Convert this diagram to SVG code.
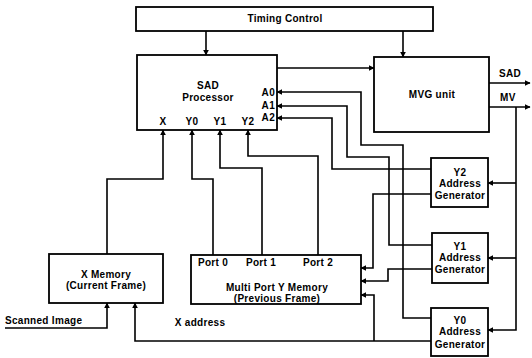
<svg xmlns="http://www.w3.org/2000/svg" width="532" height="358" viewBox="0 0 532 358">
<style>
.box{fill:#fff;stroke:#000;stroke-width:1.8}
.t{font-family:"Liberation Sans",Arial,sans-serif;font-weight:bold;font-size:10px;fill:#000;text-anchor:middle;letter-spacing:0.3px}
.l{text-anchor:start}
.r{text-anchor:end}
.c{fill:none;stroke:#000;stroke-width:1.6}
</style>
<defs>
<marker id="ah" viewBox="0 0 10 10" refX="9" refY="5" markerWidth="6" markerHeight="6" markerUnits="userSpaceOnUse" orient="auto">
<path d="M0,0 L10,5 L0,10 z" fill="#000"/>
</marker>
</defs>
<rect width="532" height="358" fill="#fff"/>
<g id="connectors">
<path class="c" d="M206,31 V55" marker-end="url(#ah)"/>
<path class="c" d="M403,31 V57" marker-end="url(#ah)"/>
<path class="c" d="M277,68 H374" marker-end="url(#ah)"/>
<path class="c" d="M489,83 H530" marker-end="url(#ah)"/>
<path class="c" d="M489,107 H530" marker-end="url(#ah)"/>
<path class="c" d="M516,107 V330 H488" marker-end="url(#ah)"/>
<path class="c" d="M516,183 H488" marker-end="url(#ah)"/>
<path class="c" d="M516,258 H488" marker-end="url(#ah)"/>
<path class="c" d="M431,318 H403 V145 H361 V92 H277" marker-end="url(#ah)"/>
<path class="c" d="M432,245 H389 V157 H347 V106 H277" marker-end="url(#ah)"/>
<path class="c" d="M431,169 H332 V118 H277" marker-end="url(#ah)"/>
<path class="c" d="M107,254 V179 H163 V130" marker-end="url(#ah)"/>
<path class="c" d="M213,255 V179 H192 V130" marker-end="url(#ah)"/>
<path class="c" d="M262,255 V168 H220 V130" marker-end="url(#ah)"/>
<path class="c" d="M318,255 V156 H248 V130" marker-end="url(#ah)"/>
<path class="c" d="M431,194 H373 V268 H361" marker-end="url(#ah)"/>
<path class="c" d="M432,269 H388 V281 H361" marker-end="url(#ah)"/>
<path class="c" d="M431,341 H135 V303" marker-end="url(#ah)"/>
<path class="c" d="M374,341 V295 H361" marker-end="url(#ah)"/>
<path class="c" d="M5,328 H107 V303" marker-end="url(#ah)"/>
<text class="t l" x="499" y="77">SAD</text>
<text class="t l" x="500" y="101">MV</text>
<text class="t l" x="5" y="324">Scanned Image</text>
<text class="t" x="200" y="326">X address</text>
</g>
<g id="timing">
<rect class="box" x="136" y="7" width="297" height="24"/>
<text class="t" x="285" y="22">Timing Control</text>
</g>
<g id="sad">
<rect class="box" x="137" y="55" width="140" height="75"/>
<text class="t" x="208" y="89">SAD</text>
<text class="t" x="208" y="101">Processor</text>
<text class="t" x="163" y="125">X</text>
<text class="t" x="192" y="125">Y0</text>
<text class="t" x="220" y="125">Y1</text>
<text class="t" x="248" y="125">Y2</text>
<text class="t r" x="275" y="96">A0</text>
<text class="t r" x="275" y="109">A1</text>
<text class="t r" x="275" y="121">A2</text>
</g>
<g id="mvg">
<rect class="box" x="374" y="57" width="115" height="75"/>
<text class="t" x="432" y="98">MVG unit</text>
</g>
<g id="y2gen">
<rect class="box" x="431" y="158" width="57" height="49"/>
<text class="t" x="460" y="175.5">Y2</text>
<text class="t" x="460" y="187">Address</text>
<text class="t" x="460" y="199">Generator</text>
</g>
<g id="y1gen">
<rect class="box" x="432" y="233" width="56" height="50"/>
<text class="t" x="460" y="249.5">Y1</text>
<text class="t" x="460" y="261">Address</text>
<text class="t" x="460" y="273">Generator</text>
</g>
<g id="y0gen">
<rect class="box" x="431" y="308" width="57" height="48"/>
<text class="t" x="460" y="323.5">Y0</text>
<text class="t" x="460" y="335">Address</text>
<text class="t" x="460" y="347.5">Generator</text>
</g>
<g id="xmem">
<rect class="box" x="49" y="254" width="114" height="49"/>
<text class="t" x="106" y="277.5">X Memory</text>
<text class="t" x="106" y="289">(Current Frame)</text>
</g>
<g id="ymem">
<rect class="box" x="191" y="255" width="170" height="49"/>
<text class="t" x="213" y="266">Port 0</text>
<text class="t" x="261" y="266">Port 1</text>
<text class="t" x="318" y="266">Port 2</text>
<text class="t" x="277" y="290.5">Multi Port Y Memory</text>
<text class="t" x="277" y="302">(Previous Frame)</text>
</g>
</svg>
